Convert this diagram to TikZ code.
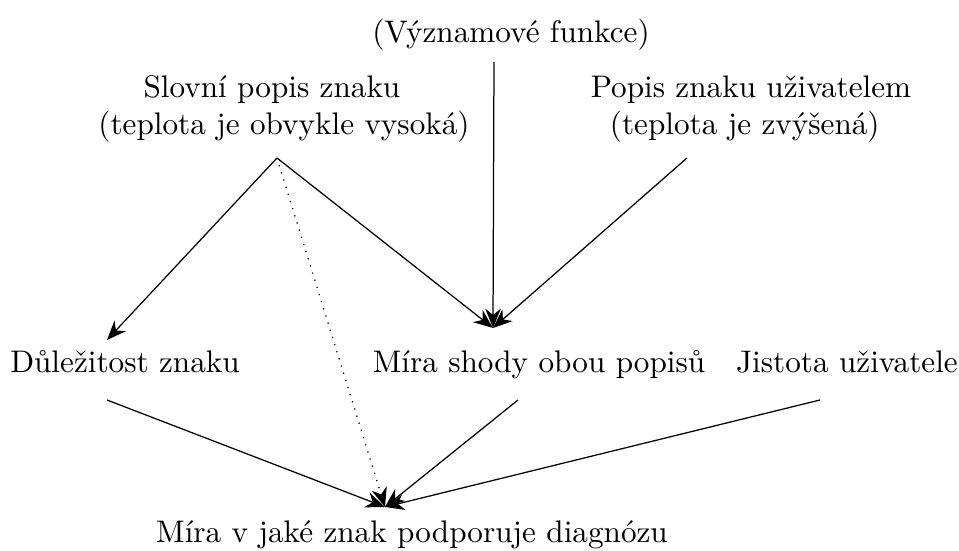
\documentclass[tikz,border=0pt]{standalone}
\usetikzlibrary{arrows.meta}
\begin{document}
\begin{tikzpicture}[x=0.3205pt,y=-0.3205pt,
  lbl/.style={inner sep=0pt,anchor=base,align=center,font=\fontsize{10pt}{12pt}\selectfont},
  arr/.style={-{Stealth[length=6.2pt,width=5pt,inset=2pt]}},
  dotarr/.style={arr,dotted}]
\useasboundingbox (0,0) rectangle (959,551);
% nodes
\node[lbl] (V) at (511,43) {(Významové funkce)};
\node[lbl] (S) at (284,135) {Slovní popis znaku\rule{7.7pt}{0pt}\\(teplota je obvykle vysoká)};
\node[lbl] (P) at (751,135) {Popis znaku uživatelem\\(teplota je zvýšená)\rule{4pt}{0pt}};
\node[lbl] (D) at (125,373) {Důležitost znaku};
\node[lbl] (M) at (539,373) {Míra shody obou popisů};
\node[lbl] (J) at (847,373) {Jistota uživatele};
\node[lbl] (B) at (412,543) {Míra v jaké znak podporuje diagnózu};
% connector points
\coordinate (Vo) at (494,62);
\coordinate (So) at (277,158);
\coordinate (Po) at (687,158);
\coordinate (Di) at (107,340);
\coordinate (Mi) at (493,328);
\coordinate (Do) at (107,400);
\coordinate (Mo) at (518,400);
\coordinate (Jo) at (820,400);
\coordinate (Bi) at (385,507);
% connectors
\draw[arr] (Vo) -- (Mi);
\draw[arr] (So) -- (Di);
\draw[arr] (So) -- (Mi);
\draw[arr] (Po) -- (Mi);
\draw[dotarr] (So) -- (Bi);
\draw[arr] (Do) -- (Bi);
\draw[arr] (Mo) -- (Bi);
\draw[arr] (Jo) -- (Bi);
\end{tikzpicture}
\end{document}
